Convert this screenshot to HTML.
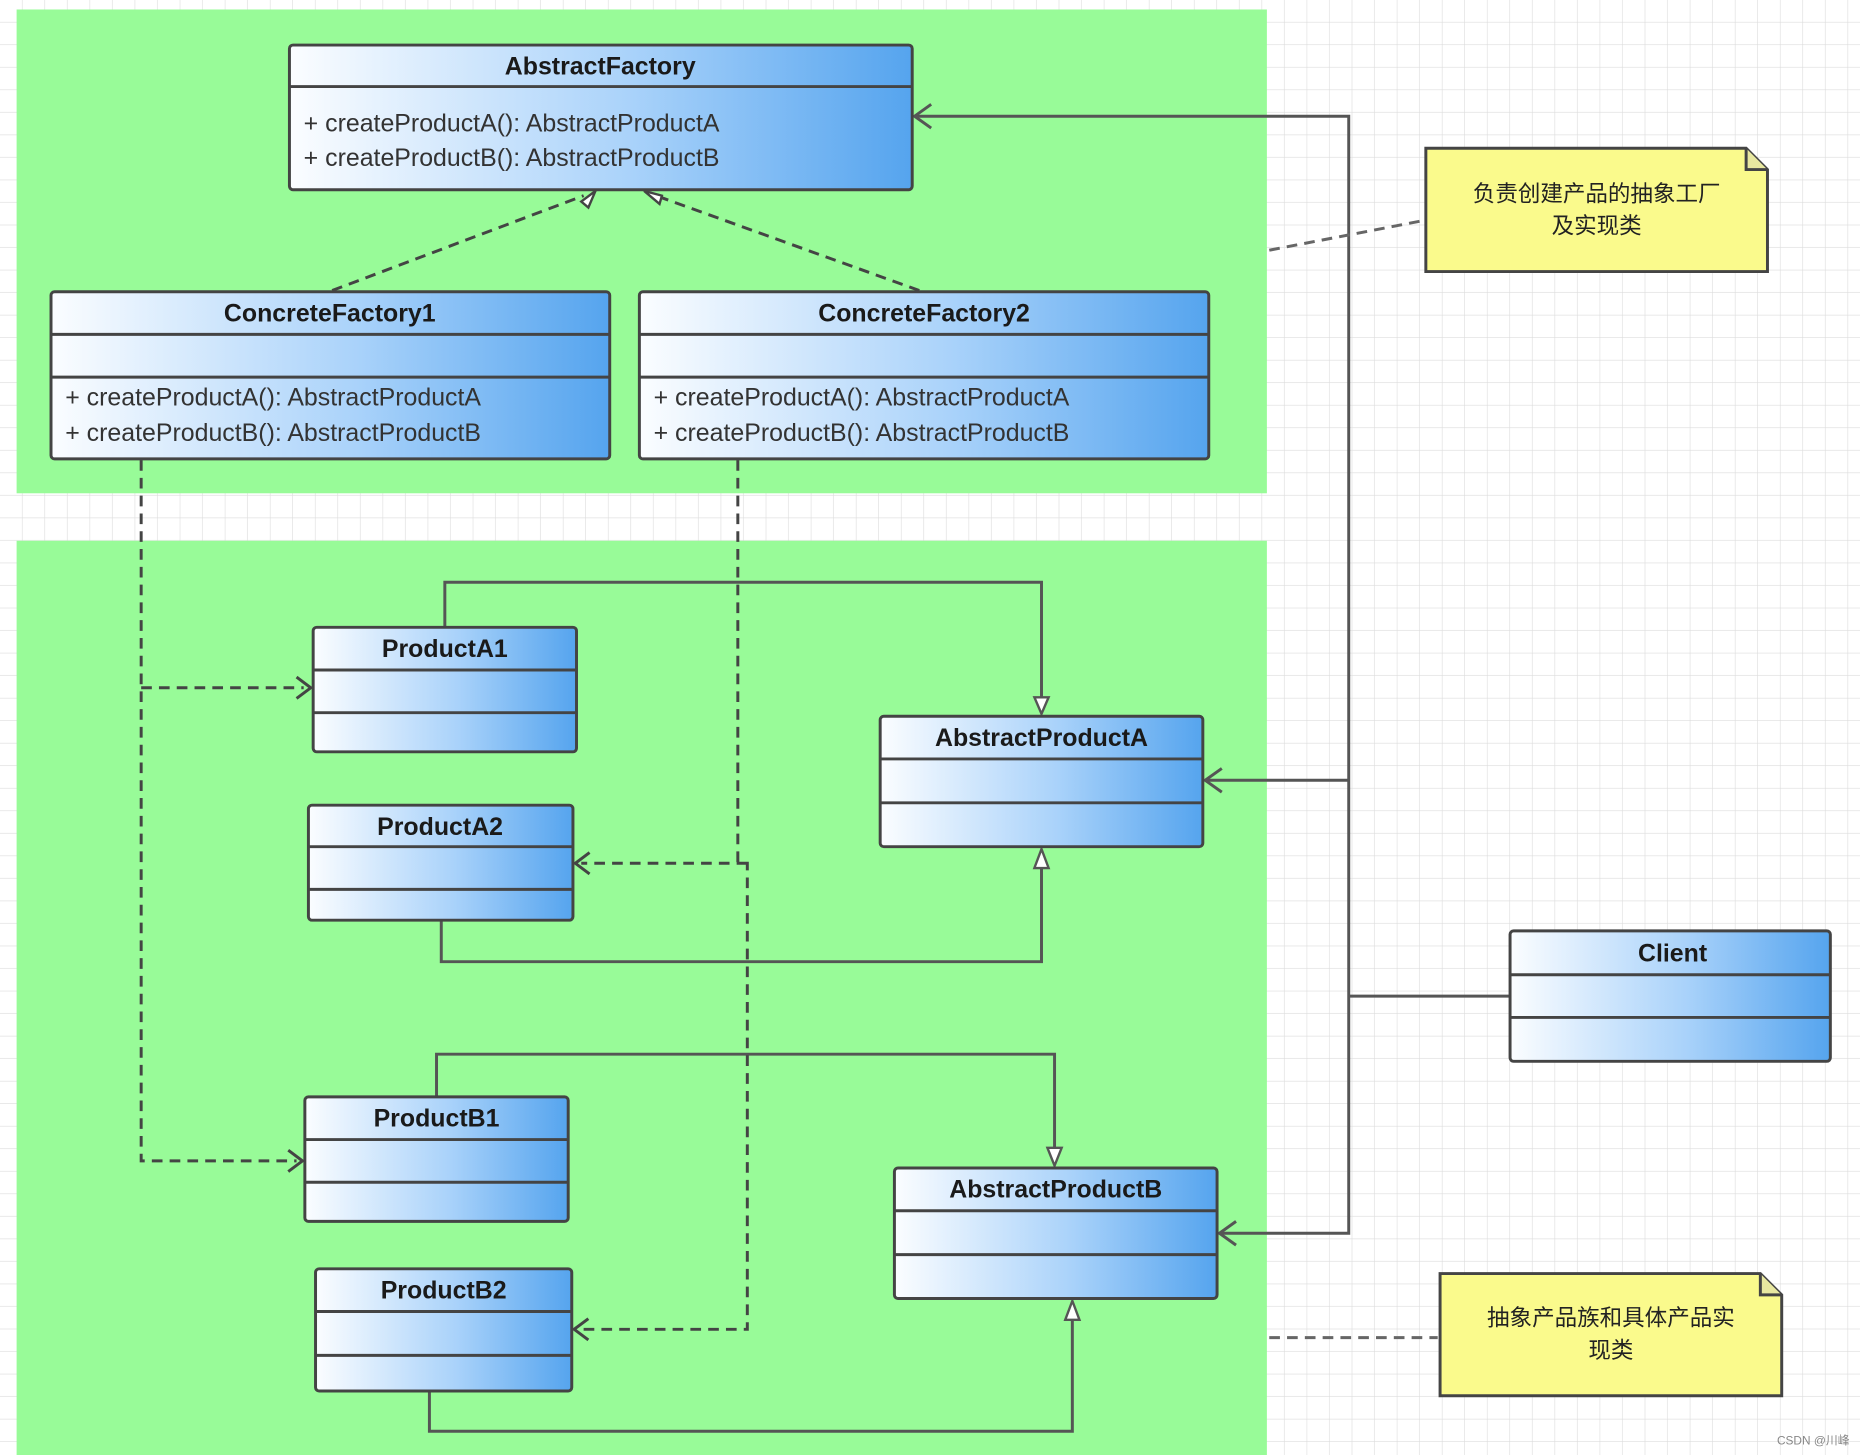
<!DOCTYPE html>
<html><head><meta charset="utf-8"><style>
html,body{margin:0;padding:0;background:#fff;}
svg{display:block;}
text{font-family:"Liberation Sans","Noto Sans CJK SC",sans-serif;fill:#1a1a1a;}
.h{font-weight:bold;font-size:21px;text-anchor:middle;}
.m{font-size:21px;fill:#333;}
.n{font-size:19px;text-anchor:middle;fill:#222;}
</style></head><body>
<svg width="1860" height="1455" viewBox="0 0 1568 1227" preserveAspectRatio="none" xmlns="http://www.w3.org/2000/svg">
<defs>
<pattern id="g" width="19" height="19" patternUnits="userSpaceOnUse"><path d="M19 0V19M0 19H19" stroke="#dcdcdc" stroke-width="1" fill="none"/></pattern>
<linearGradient id="b" x1="0" x2="1" y1="0" y2="0"><stop offset="0" stop-color="#fbfdff"/><stop offset="0.55" stop-color="#a9d2fa"/><stop offset="1" stop-color="#55a4ee"/></linearGradient>
</defs>
<rect width="1568" height="1227" fill="#fff"/>
<rect width="1568" height="1227" fill="url(#g)"/>
<rect x="14" y="8" width="1054" height="408" fill="#98fb98"/>
<rect x="14" y="456" width="1054" height="771" fill="#98fb98"/>

<g stroke="#555" stroke-width="2.5" fill="none">
<!-- client connectors -->
<path d="M771 98H1137V1040H1028M1137 658H1016M1137 840H1273"/>
<path d="M785 88L771 98L785 108M1030 648L1016 658L1030 668M1042 1030L1028 1040L1042 1050"/>
<!-- generalizations -->
<path d="M375 529V491H878V590M372 776V811H878V730M368 925V889H889V970M362 1173V1207H904V1112"/>
</g>
<g stroke="#555" stroke-width="2" fill="#fff">
<path d="M872 588L878 602L884 588Z"/>
<path d="M872 732L878 716L884 732Z"/>
<path d="M883 968L889 983L895 968Z"/>
<path d="M898 1113L904 1097L910 1113Z"/>
</g>
<g stroke="#444" stroke-width="2.5" fill="none" stroke-dasharray="9,6">
<path d="M280 245L492 165M775 245L553 165"/>
<path d="M119 388V979H250M119 580H256"/>
<path d="M622 388V728H630V1121H490M630 728H490"/>
<path d="M1070 211L1200 186M1070 1128H1212" stroke="#666"/>
</g>
<g stroke="#444" stroke-width="2" fill="#fff">
<path d="M490 170L502 161L496 175Z"/>
<path d="M556 172L543 161L558 165Z"/>
</g>
<g stroke="#444" stroke-width="2.5" fill="none">
<path d="M250 571L262 580L250 589M243 970L255 979L243 988M497 719L485 728L497 737M496 1112L484 1121L496 1130"/>
</g>

<g stroke="#444" stroke-width="2.5">
<rect x="244" y="38" width="525" height="122" rx="3" fill="url(#b)"/>
<line x1="244" y1="73" x2="769" y2="73"/>
<rect x="43" y="246" width="471" height="141" rx="3" fill="url(#b)"/>
<line x1="43" y1="282" x2="514" y2="282"/><line x1="43" y1="318" x2="514" y2="318"/>
<rect x="539" y="246" width="480" height="141" rx="3" fill="url(#b)"/>
<line x1="539" y1="282" x2="1019" y2="282"/><line x1="539" y1="318" x2="1019" y2="318"/>
<rect x="264" y="529" width="222" height="105" rx="3" fill="url(#b)"/>
<line x1="264" y1="565" x2="486" y2="565"/><line x1="264" y1="601" x2="486" y2="601"/>
<rect x="260" y="679" width="223" height="97" rx="3" fill="url(#b)"/>
<line x1="260" y1="714" x2="483" y2="714"/><line x1="260" y1="750" x2="483" y2="750"/>
<rect x="742" y="604" width="272" height="110" rx="3" fill="url(#b)"/>
<line x1="742" y1="640" x2="1014" y2="640"/><line x1="742" y1="677" x2="1014" y2="677"/>
<rect x="257" y="925" width="222" height="105" rx="3" fill="url(#b)"/>
<line x1="257" y1="961" x2="479" y2="961"/><line x1="257" y1="997" x2="479" y2="997"/>
<rect x="266" y="1070" width="216" height="103" rx="3" fill="url(#b)"/>
<line x1="266" y1="1106" x2="482" y2="1106"/><line x1="266" y1="1143" x2="482" y2="1143"/>
<rect x="754" y="985" width="272" height="110" rx="3" fill="url(#b)"/>
<line x1="754" y1="1021" x2="1026" y2="1021"/><line x1="754" y1="1058" x2="1026" y2="1058"/>
<rect x="1273" y="785" width="270" height="110" rx="3" fill="url(#b)"/>
<line x1="1273" y1="822" x2="1543" y2="822"/><line x1="1273" y1="858" x2="1543" y2="858"/>
</g>

<text class="h" x="506" y="63">AbstractFactory</text>
<text class="m" x="256" y="111">+ createProductA(): AbstractProductA</text>
<text class="m" x="256" y="140">+ createProductB(): AbstractProductB</text>
<text class="h" x="278" y="271">ConcreteFactory1</text>
<text class="m" x="55" y="342">+ createProductA(): AbstractProductA</text>
<text class="m" x="55" y="372">+ createProductB(): AbstractProductB</text>
<text class="h" x="779" y="271">ConcreteFactory2</text>
<text class="m" x="551" y="342">+ createProductA(): AbstractProductA</text>
<text class="m" x="551" y="372">+ createProductB(): AbstractProductB</text>
<text class="h" x="375" y="554">ProductA1</text>
<text class="h" x="371" y="704">ProductA2</text>
<text class="h" x="878" y="629">AbstractProductA</text>
<text class="h" x="368" y="950">ProductB1</text>
<text class="h" x="374" y="1095">ProductB2</text>
<text class="h" x="890" y="1010">AbstractProductB</text>
<text class="h" x="1410" y="811">Client</text>

<g stroke="#444" stroke-width="2.5">
<path d="M1202 125H1472L1490 143V229H1202Z" fill="#fafa8c"/>
<path d="M1472 125V143H1490" fill="#e8e8a0"/>
<path d="M1214 1074H1484L1502 1092V1177H1214Z" fill="#fafa8c"/>
<path d="M1484 1074V1092H1502" fill="#e8e8a0"/>
</g>
<text class="n" x="1346" y="170">负责创建产品的抽象工厂</text>
<text class="n" x="1346" y="197">及实现类</text>
<text class="n" x="1358" y="1118">抽象产品族和具体产品实</text>
<text class="n" x="1358" y="1145">现类</text>
<text x="1498" y="1218" style="font-size:10px;fill:#888">CSDN @川峰</text>
</svg>
</body></html>
